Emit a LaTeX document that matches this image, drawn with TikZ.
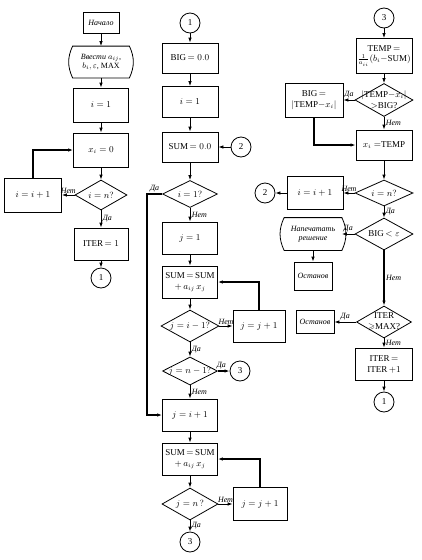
\documentclass[tikz,border=0pt]{standalone}
\usepackage{amssymb}
\usepackage{fontspec}
\setmainfont{Liberation Serif}
\usetikzlibrary{shapes.geometric, arrows.meta}

\tikzset{
  blk/.style={draw, minimum width=55pt, minimum height=32pt, inner sep=1pt, align=center, font=\small},
  dec/.style={draw, diamond, minimum width=56pt, minimum height=30pt, inner sep=0pt, label={[dtxt]center:#1}},
  dtxt/.style={font=\small, align=center, inner sep=0pt},
  con/.style={draw, circle, minimum size=20pt, inner sep=0pt, font=\small},
  lbl/.style={font=\footnotesize\itshape, inner sep=1.5pt},
  arr/.style={-{Latex[length=5pt,width=3.5pt]}},
  lp/.style={line width=1.3pt},
}

\begin{document}
\begin{tikzpicture}[x=1pt, y=-1pt, thick]
\useasboundingbox (0,0) rectangle (422,560);
% left column
\node[blk, minimum width=36pt, minimum height=21pt, font=\footnotesize\itshape] (start) at (101,23) {Начало};
\node[blk, draw=none, minimum width=56pt, minimum height=31pt, font=\footnotesize] (inp) at (101,62) {\itshape Ввести $a_{ij}$,\\ $b_i,\varepsilon$, MAX};
\draw (inp.north west) to[bend right=25] (inp.south west) -- (inp.south east) to[bend right=25] (inp.north east) -- cycle;
\node[blk, minimum height=34pt] (i1) at (101,105) {$i=1$};
\node[blk, minimum height=34pt] (x0) at (101,150) {$x_i=0$};
\node[dec={$i=n?$}, minimum width=52pt] (dn1) at (101,195) {};
\node[blk, minimum width=57pt, minimum height=34pt] (inc1) at (33,195) {$i=i+1$};
\node[blk, minimum width=54pt] (iter1) at (101,244) {ITER$\,=1$};
\node[con] (c1a) at (101,278) {1};
\draw[arr] (start) -- (inp);
\draw[arr] (inp) -- (i1);
\draw[arr] (i1) -- (x0);
\draw[arr] (x0) -- (dn1);
\draw[arr] (dn1.west) -- node[lbl, above] (no1) {Нет} (inc1.east);
\draw[arr, lp] (inc1.north) |- (x0.west);
\draw[arr] (dn1.south) -- node[lbl, right] (ye1) {Да} (iter1.north);
\draw[arr] (iter1) -- (c1a);

% middle column
\node[con] (c1b) at (190,23) {1};
\node[blk, minimum width=56pt, minimum height=30pt] (big0) at (190,58) {BIG$\,=0.0$};
\node[blk, minimum width=56pt, minimum height=31pt] (i1b) at (190,102) {$i=1$};
\node[blk, minimum width=56pt, minimum height=30pt] (sum0) at (190,147) {SUM$\,=0.0$};
\node[con] (c2a) at (241,147) {2};
\node[dec={$i=1?$}, minimum width=55pt, minimum height=27pt] (d1) at (190,194) {};
\node[blk] (j1) at (190,238) {$j=1$};
\node[blk] (sum1) at (190,282) {SUM$\,=\,$SUM\\$+\,a_{ij}\,x_j$};
\node[dec={$j=i-1?$}, minimum width=58pt, minimum height=32pt] (d2) at (190,326) {};
\node[blk, minimum width=52pt] (jj1) at (259,326) {$j=j+1$};
\node[dec={$j=n-1?$}, minimum width=55pt, minimum height=28pt] (d3) at (190,371) {};
\node[con] (c3a) at (240,371) {3};
\node[blk] (ji1) at (190,415) {$j=i+1$};
\node[blk] (sum2) at (190,459) {SUM$\,=\,$SUM\\$+\,a_{ij}\,x_j$};
\node[dec={$j=n\,?$}, minimum width=56pt, minimum height=32pt] (d4) at (190,504) {};
\node[blk, minimum width=54pt, minimum height=33pt] (jj2) at (260,504) {$j=j+1$};
\node[con] (c3b) at (190,542) {3};
\draw[arr] (c1b) -- (big0);
\draw[arr] (big0) -- (i1b);
\draw[arr] (i1b) -- (sum0);
\draw[arr] (c2a) -- (sum0);
\draw[arr] (sum0) -- (d1);
\draw[arr] (d1.south) -- node[lbl, right] (no2) {Нет} (j1.north);
\draw[arr, lp] (d1.west) -- node[lbl, above] (ye2) {Да} ++(-15,0) |- (ji1.west);
\draw[arr] (j1) -- (sum1);
\draw[arr] (sum1) -- (d2);
\draw[arr] (d2.east) -- node[lbl, above] (no3) {Нет} (jj1.west);
\draw[arr, lp] (jj1.north) |- (sum1.east);
\draw[arr] (d2.south) -- node[lbl, right] (ye3) {Да} (d3.north);
\draw[arr, lp] (d3.east) -- node[lbl, above, pos=0.3] (ye4) {Да} (c3a);
\draw[arr] (d3.south) -- node[lbl, right] (no4) {Нет} (ji1.north);
\draw[arr] (ji1) -- (sum2);
\draw[arr] (sum2) -- (d4);
\draw[arr] (d4.east) -- node[lbl, above] (no5) {Нет} (jj2.west);
\draw[arr, lp] (jj2.north) |- (sum2.east);
\draw[arr] (d4.south) -- node[lbl, right] (ye5) {Да} (c3b);

% right column
\node[con] (c3c) at (384,18) {3};
\node[blk, minimum width=56pt, minimum height=35pt] (temp) at (384,56) {TEMP$\,=$\\[-1pt]$\frac{1}{a_{ii}}(b_i-$SUM$)$};
\node[dec={$|$TEMP$-x_i|$\\$>$BIG?}, minimum width=58pt, minimum height=33pt] (d5) at (384,100) {};
\node[blk, minimum width=58pt, minimum height=34pt] (bigx) at (314,100) {BIG$\,=$\\$|$TEMP$-x_i|$};
\node[blk, minimum width=56pt, minimum height=30pt] (xt) at (384,145) {$x_i=$TEMP};
\node[dec={$i=n?$}, minimum width=58pt, minimum height=26pt] (d6) at (384,193) {};
\node[blk, minimum width=56pt, minimum height=33pt] (inc2) at (315,193) {$i=i+1$};
\node[con] (c2b) at (265,193) {2};
\node[dec={BIG$\,<\varepsilon$}, minimum width=58pt, minimum height=32pt] (d7) at (384,234) {};
\node[blk, draw=none, minimum width=57pt, font=\footnotesize\itshape] (prn) at (313,234) {Напечатать\\решение};
\draw (prn.north west) to[bend right=25] (prn.south west) -- (prn.south east) to[bend right=25] (prn.north east) -- cycle;
\node[blk, minimum width=38pt, minimum height=28pt, font=\footnotesize\itshape] (stop1) at (313,276) {Останов};
\node[dec={ITER\\$\geqslant$MAX?}, minimum width=55pt, minimum height=32pt] (d8) at (384,322) {};
\node[blk, minimum width=38pt, minimum height=23pt, font=\footnotesize\itshape] (stop2) at (315,322) {Останов};
\node[blk, minimum width=57pt] (iter2) at (384,364) {ITER$\,=$\\ITER$\,+1$};
\node[con] (c1c) at (384,402) {1};
\draw[arr] (c3c) -- (temp);
\draw[arr] (temp) -- (d5);
\draw[arr] (d5.west) -- node[lbl, above] (ye6) {Да} (bigx.east);
\draw[arr] (d5.south) -- node[lbl, right] (no6) {Нет} (xt.north);
\draw[arr, lp] (bigx.south) |- (xt.west);
\draw[arr] (xt) -- (d6);
\draw[arr] (d6.west) -- node[lbl, above] (no7) {Нет} (inc2.east);
\draw[arr] (inc2.west) -- (c2b);
\draw[arr] (d6.south) -- node[lbl, right] (ye7) {Да} (d7.north);
\draw[arr] (d7.west) -- node[lbl, above] (ye8) {Да} (prn.east);
\draw[arr] (prn) -- (stop1);
\draw[arr, lp] (d7.south) -- node[lbl, right] (no8) {Нет} (d8.north);
\draw[arr] (d8.west) -- node[lbl, above] (ye9) {Да} (stop2.east);
\draw[arr] (d8.south) -- node[lbl, right] (no9) {Нет} (iter2.north);
\draw[arr] (iter2) -- (c1c);
\end{tikzpicture}
\end{document}
